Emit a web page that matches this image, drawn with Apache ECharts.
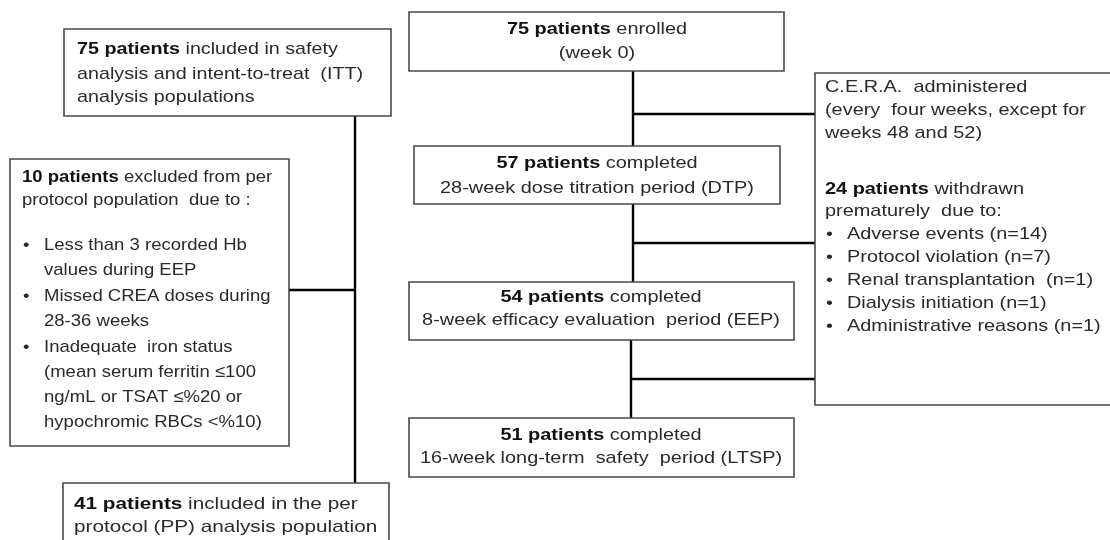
<!DOCTYPE html>
<html>
<head>
<meta charset="utf-8">
<script src="https://cdn.jsdelivr.net/npm/echarts@6/dist/echarts.min.js"></script>
<style>
html,body{margin:0;padding:0;background:#fff;}
#chart{width:1110px;height:540px;}
</style>
</head>
<body>
<div id="chart"></div>
<script>
// ---------- DATA (texts of the flow chart) ----------
const ittLines = [
  "{b|75 patients} included in safety",
  "analysis and intent-to-treat  (ITT)",
  "analysis populations"
];
const excludedLines = [
  "{b|10 patients} excluded from per",
  "protocol population  due to :",
  "",
  "• Less than 3 recorded Hb",
  "  values during EEP",
  "• Missed CREA doses during",
  "  28-36 weeks",
  "• Inadequate  iron status",
  "  (mean serum ferritin ≤100",
  "  ng/mL or TSAT ≤%20 or",
  "  hypochromic RBCs <%10)"
];
const ppLines = [
  "{b|41 patients} included in the per",
  "protocol (PP) analysis population"
];
const enrolledLines = ["{b|75 patients} enrolled", "(week 0)"];
const dtpLines = ["{b|57 patients} completed", "28-week dose titration period (DTP)"];
const eepLines = ["{b|54 patients} completed", "8-week efficacy evaluation  period (EEP)"];
const ltspLines = ["{b|51 patients} completed", "16-week long-term  safety  period (LTSP)"];
const ceraLines = [
  "C.E.R.A.  administered",
  "(every  four weeks, except for",
  "weeks 48 and 52)",
  "",
  "{b|24 patients} withdrawn",
  "prematurely  due to:",
  "• Adverse events (n=14)",
  "• Protocol violation (n=7)",
  "• Renal transplantation  (n=1)",
  "• Dialysis initiation (n=1)",
  "• Administrative reasons (n=1)"
];

// ---------- LAYOUT (positions in chart units = pixels) ----------
const boxLayout = [
  {lines: ittLines,      rect: [64, 29, 391, 116],   align: 'left',   tx: 77,  sx: 1.16, rows: [49, 74, 97]},
  {lines: excludedLines, rect: [10, 159, 289, 446],  align: 'left',   tx: 22,  sx: 1.09, rows: [177, 200, 0, 245, 270, 296, 321, 347, 372, 397, 422]},
  {lines: ppLines,       rect: [63, 483, 389, 548],  align: 'left',   tx: 74,  sx: 1.22, rows: [504, 527]},
  {lines: enrolledLines, rect: [409, 12, 784, 71],   align: 'center', tx: 597, sx: 1.17, rows: [29, 53]},
  {lines: dtpLines,      rect: [414, 146, 780, 204], align: 'center', tx: 597, sx: 1.17, rows: [163, 188]},
  {lines: eepLines,      rect: [409, 282, 794, 340], align: 'center', tx: 601, sx: 1.17, rows: [297, 320]},
  {lines: ltspLines,     rect: [409, 418, 794, 477], align: 'center', tx: 601, sx: 1.17, rows: [435, 458]},
  {lines: ceraLines,     rect: [815, 73, 1118, 405], align: 'left',   tx: 825, sx: 1.17, rows: [87, 110, 133, 0, 189, 211, 234, 257, 280, 303, 326]}
];
const connectorLayout = [
  [[355, 116], [355, 483]],
  [[289, 290], [355, 290]],
  [[633, 71], [633, 146]],
  [[633, 114], [815, 114]],
  [[633, 204], [633, 282]],
  [[633, 243], [815, 243]],
  [[631, 340], [631, 418]],
  [[631, 379], [815, 379]]
];

// ---------- STYLE ----------
const FONT = '"Liberation Sans", Arial, sans-serif';
const FS = 17;
const TEXT_COLOR = '#2a2a2a';
const BULLET_INDENT = 22;

const chart = echarts.init(document.getElementById('chart'), null, {renderer: 'canvas'});

function textEl(api, x, y, str, align, sx) {
  const p = api.coord([x, y]);
  return {
    type: 'text',
    x: p[0], y: p[1],
    scaleX: sx,
    style: {
      text: str,
      x: 0, y: 0,
      align: align,
      verticalAlign: 'middle',
      fill: TEXT_COLOR,
      fontSize: FS,
      fontFamily: FONT,
      rich: {
        b: {fontWeight: 'bold', fontSize: FS, fontFamily: FONT, fill: '#111'}
      }
    }
  };
}

const option = {
  animation: false,
  backgroundColor: '#ffffff',
  grid: {left: 0, right: 0, top: 0, bottom: 0},
  xAxis: {type: 'value', min: 0, max: 1110, show: false},
  yAxis: {type: 'value', min: 0, max: 540, inverse: true, show: false},
  series: [
    {
      type: 'custom',
      coordinateSystem: 'cartesian2d',
      data: connectorLayout.map((c, i) => [i]),
      renderItem: function (params, api) {
        const seg = connectorLayout[params.dataIndex];
        const a = api.coord(seg[0]), b = api.coord(seg[1]);
        return {
          type: 'line',
          shape: {x1: a[0], y1: a[1], x2: b[0], y2: b[1]},
          style: {stroke: '#000', lineWidth: 2.4}
        };
      },
      silent: true,
      z: 1
    },
    {
      type: 'custom',
      coordinateSystem: 'cartesian2d',
      data: boxLayout.map((b, i) => [i]),
      renderItem: function (params, api) {
        const box = boxLayout[params.dataIndex];
        const p0 = api.coord([box.rect[0], box.rect[1]]);
        const p1 = api.coord([box.rect[2], box.rect[3]]);
        const children = [{
          type: 'rect',
          shape: {x: p0[0], y: p0[1], width: p1[0] - p0[0], height: p1[1] - p0[1]},
          style: {fill: '#fff', stroke: '#4a4a4a', lineWidth: 1.6}
        }];
        box.lines.forEach(function (line, i) {
          if (!line) return;
          const y = box.rows[i];
          if (line.indexOf('• ') === 0) {
            children.push(textEl(api, box.tx + 1, y, '•', 'left', box.sx));
            children.push(textEl(api, box.tx + BULLET_INDENT, y, line.slice(2), 'left', box.sx));
          } else if (line.indexOf('  ') === 0) {
            children.push(textEl(api, box.tx + BULLET_INDENT, y, line.slice(2), 'left', box.sx));
          } else {
            children.push(textEl(api, box.tx, y, line, box.align, box.sx));
          }
        });
        return {type: 'group', children: children};
      },
      silent: true,
      z: 2
    }
  ]
};
chart.setOption(option);
</script>
</body>
</html>
